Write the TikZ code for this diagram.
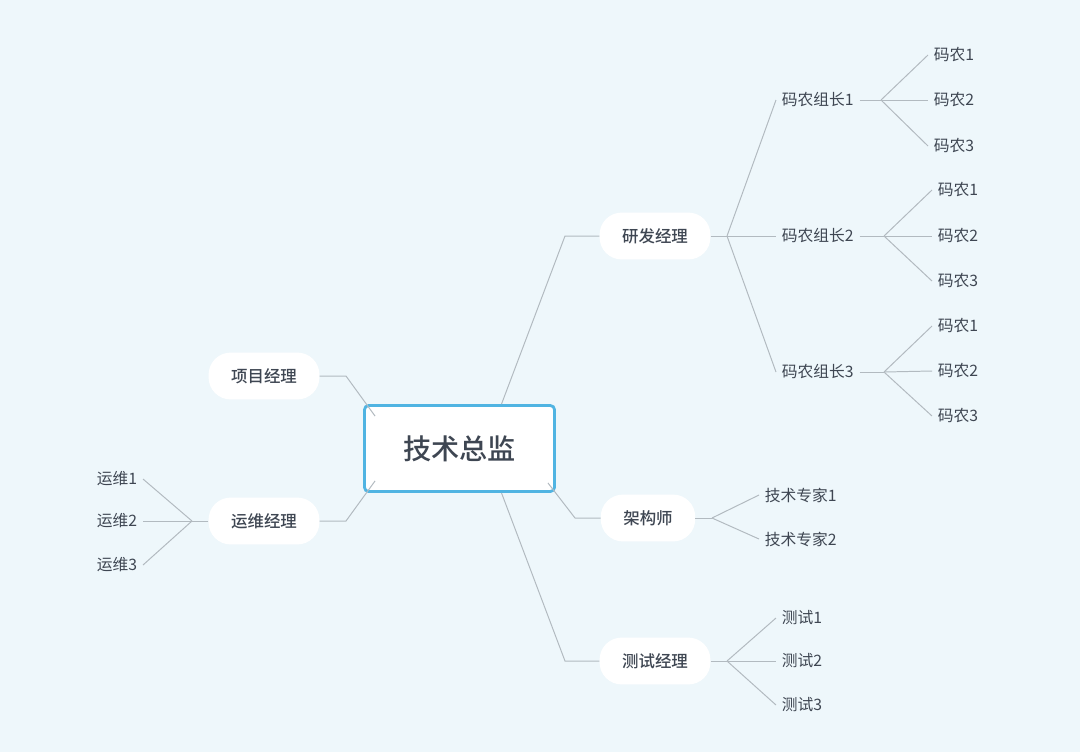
\documentclass[tikz,border=0pt]{standalone}
\usepackage{fontspec}
\setmainfont{Noto Sans CJK SC}[BoldFont={Noto Sans CJK SC Medium}]
\usetikzlibrary{positioning}
\definecolor{bgblue}{RGB}{238,247,251}
\definecolor{boxblue}{RGB}{80,180,226}
\definecolor{txtgray}{RGB}{62,70,82}
\definecolor{linegray}{RGB}{178,186,192}
\tikzset{
  chief/.style={draw=boxblue, line width=2pt, fill=white, rounded corners=3pt,
    minimum width=4.75cm, minimum height=2.15cm, text=txtgray,
    font=\fontsize{20}{24}\selectfont\bfseries},
  mgr/.style={fill=white, rounded corners=0.55cm, inner xsep=16pt,
    minimum height=1.17cm, text=txtgray, font=\fontsize{11.7}{14}\selectfont\bfseries},
  leaf/.style={text=txtgray, inner xsep=4pt, inner ysep=2pt,
    font=\fontsize{11.2}{13}\selectfont},
  link/.style={draw=linegray, line width=0.7pt}
}
\begin{document}
\begin{tikzpicture}[x=0.025cm, y=-0.025cm]
    \fill[bgblue] (0,0) rectangle (1080,752);
    \useasboundingbox (0,0) rectangle (1080,752);

    \node[chief] (boss) at (459.5,448.5) {技术总监};

    \node[mgr] (xm) at (264,376) {项目经理};
    \node[mgr] (yw) at (264,521) {运维经理};
    \node[mgr] (yf) at (655,236) {研发经理};
    \node[mgr] (jg) at (648,518) {架构师};
    \node[mgr] (cs) at (655,661) {测试经理};

    \draw[link] (boss.north) ++(42,0) -- (565,236) -- (yf.west);
    \draw[link] (boss.south east) ++(-8,-10) -- (575,518) -- (jg.west);
    \draw[link] (boss.south) ++(42,0) -- (565,661) -- (cs.west);
    \draw[link] (boss.north west) ++(12,12) -- (346,376) -- (xm.east);
    \draw[link] (boss.south west) ++(12,-12) -- (346,521) -- (yw.east);

    % 研发
    \coordinate (fyf) at (727,236);
    \node[leaf, anchor=west] (z1) at (776,100) {码农组长1};
    \node[leaf, anchor=west] (z2) at (776,236) {码农组长2};
    \node[leaf, anchor=west] (z3) at (776,372) {码农组长3};
    \draw[link] (yf.east) -- (fyf);
    \foreach \z in {z1,z2,z3}
        \draw[link] (fyf) -- (\z.west);

    \coordinate (f1) at (881,100);
    \coordinate (f2) at (884,236);
    \coordinate (f3) at (884,372);
    \node[leaf, anchor=west] (m11) at (928,55) {码农1};
    \node[leaf, anchor=west] (m12) at (928,100) {码农2};
    \node[leaf, anchor=west] (m13) at (928,146) {码农3};
    \node[leaf, anchor=west] (m21) at (932,190) {码农1};
    \node[leaf, anchor=west] (m22) at (932,236) {码农2};
    \node[leaf, anchor=west] (m23) at (932,281) {码农3};
    \node[leaf, anchor=west] (m31) at (932,326) {码农1};
    \node[leaf, anchor=west] (m32) at (932,371) {码农2};
    \node[leaf, anchor=west] (m33) at (932,416) {码农3};
    \foreach \i in {1,2,3} {
        \draw[link] (z\i.east) -- (f\i);
        \foreach \j in {1,2,3}
            \draw[link] (f\i) -- (m\i\j.west);
    }

    % 架构师
    \coordinate (fjg) at (712,518);
    \node[leaf, anchor=west] (e1) at (759,495) {技术专家1};
    \node[leaf, anchor=west] (e2) at (759,539) {技术专家2};
    \draw[link] (jg.east) -- (fjg);
    \draw[link] (fjg) -- (e1.west);
    \draw[link] (fjg) -- (e2.west);

    % 测试
    \coordinate (fcs) at (727,661);
    \node[leaf, anchor=west] (t1) at (776,618) {测试1};
    \node[leaf, anchor=west] (t2) at (776,661) {测试2};
    \node[leaf, anchor=west] (t3) at (776,705) {测试3};
    \draw[link] (cs.east) -- (fcs);
    \foreach \t in {t1,t2,t3}
        \draw[link] (fcs) -- (\t.west);

    % 运维
    \coordinate (fyw) at (192,521);
    \node[leaf, anchor=east] (o1) at (143,479) {运维1};
    \node[leaf, anchor=east] (o2) at (143,521) {运维2};
    \node[leaf, anchor=east] (o3) at (143,565) {运维3};
    \draw[link] (yw.west) -- (fyw);
    \foreach \o in {o1,o2,o3}
        \draw[link] (fyw) -- (\o.east);
\end{tikzpicture}
\end{document}
